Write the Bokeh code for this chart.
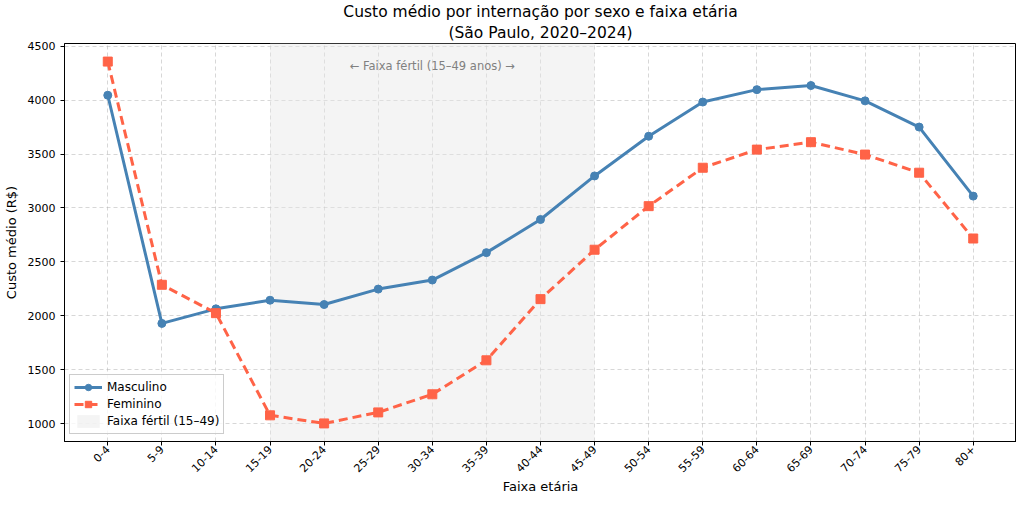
import math
from bokeh.plotting import figure
from bokeh.models import (FixedTicker, Range1d, Legend, LegendItem, Title, ColumnDataSource)
from bokeh.core.properties import value
from bokeh.embed import file_html
from bokeh.resources import INLINE

faixas = ["0-4", "5-9", "10-14", "15-19", "20-24", "25-29", "30-34", "35-39", "40-44",
          "45-49", "50-54", "55-59", "60-64", "65-69", "70-74", "75-79", "80+"]
masculino = [4045, 1930, 2065, 2145, 2105, 2248, 2332, 2586, 2893, 3297, 3665, 3982,
             4097, 4135, 3993, 3750, 3110]
feminino = [4357, 2288, 2025, 1078, 1003, 1105, 1273, 1588, 2155, 2613, 3017, 3373,
            3541, 3610, 3495, 3327, 2717]
y_ticks = [1000, 1500, 2000, 2500, 3000, 3500, 4000, 4500]
fertil_inicio = "15-19"
fertil_fim = "45-49"
titulo = "Custo médio por internação por sexo e faixa etária"
subtitulo = "(São Paulo, 2020–2024)"

FONT = "DejaVu Sans"
xs = list(range(len(faixas)))
x0 = faixas.index(fertil_inicio)
x1 = faixas.index(fertil_fim)

ymin = min(min(masculino), min(feminino))
ymax = max(max(masculino), max(feminino))
pad = 0.05 * (ymax - ymin)

p = figure(width=1016, height=496, output_backend="svg", toolbar_location=None,
           x_range=Range1d(-0.8, len(faixas) - 1 + 0.8),
           y_range=Range1d(ymin - pad, ymax + pad),
           min_border_left=57, min_border_right=0, min_border_top=0, min_border_bottom=0,
           title=None)

p.add_layout(Title(text=subtitulo, align="center", text_font=FONT, text_font_size="15.5px",
                   text_font_style="normal", text_color="black", standoff=3, offset=0), "above")
p.add_layout(Title(text=titulo, align="center", text_font=FONT, text_font_size="15.5px",
                   text_font_style="normal", text_color="black", standoff=0), "above")

p.background_fill_color = "white"
p.border_fill_color = "white"
p.outline_line_color = "black"
p.outline_line_width = 1

# shaded fertile band
band = p.quad(left=[x0], right=[x1], bottom=[-1e5], top=[1e5],
              fill_color="#e6e6e6", fill_alpha=0.45, line_color=None)

src = ColumnDataSource(dict(x=xs, m=masculino, f=feminino))
lm = p.line("x", "m", source=src, line_color="#4682B4", line_width=3)
sm = p.scatter("x", "m", source=src, marker="circle", size=8,
               fill_color="#4682B4", line_color="#4682B4")
lf = p.line("x", "f", source=src, line_color="#FF6347", line_width=3, line_dash="9 5")
sf = p.scatter("x", "f", source=src, marker="square", size=9,
               fill_color="#FF6347", line_color="#FF6347")

p.text(x=[(x0 + x1) / 2], y=[ymax - 40], text=["← Faixa fértil (15–49 anos) →"],
       text_font=value(FONT), text_font_size="11.5px", text_color="gray",
       text_align="center", text_baseline="middle")

# axes
p.xaxis.ticker = FixedTicker(ticks=xs)
p.xaxis.major_label_overrides = {i: f for i, f in enumerate(faixas)}
p.xaxis.major_label_orientation = math.pi / 4
p.yaxis.ticker = FixedTicker(ticks=y_ticks)
for ax in (p.xaxis[0], p.yaxis[0]):
    ax.major_label_text_font = FONT
    ax.major_label_text_font_size = "11px"
    ax.major_label_text_color = "black"
    ax.axis_label_text_font = FONT
    ax.axis_label_text_font_size = "13px"
    ax.axis_label_text_font_style = "normal"
    ax.axis_label_text_color = "black"
    ax.major_tick_in = 0
    ax.major_tick_out = 4
    ax.minor_tick_line_color = None
    ax.axis_line_color = "black"
    ax.major_tick_line_color = "black"
p.xaxis.axis_label = "Faixa etária"
p.yaxis.axis_label = "Custo médio (R$)"
p.xaxis.major_label_standoff = 2
p.xaxis.axis_label_standoff = 0
p.yaxis.axis_label_standoff = 6

p.xgrid.grid_line_color = "#b0b0b0"
p.ygrid.grid_line_color = "#b0b0b0"
p.xgrid.grid_line_alpha = 0.5
p.ygrid.grid_line_alpha = 0.5
p.xgrid.grid_line_dash = "4 3"
p.ygrid.grid_line_dash = "4 3"

legend = Legend(items=[
    LegendItem(label="Masculino", renderers=[lm, sm]),
    LegendItem(label="Feminino", renderers=[lf, sf]),
    LegendItem(label="Faixa fértil (15–49)", renderers=[band]),
], location=(5, 7))
legend.label_text_font = FONT
legend.label_text_font_size = "12px"
legend.label_text_color = "black"
legend.border_line_color = "#cccccc"
legend.border_line_alpha = 1
legend.background_fill_alpha = 0.8
legend.margin = 0
legend.padding = 4
legend.spacing = 1
legend.label_height = 16
legend.glyph_height = 16
legend.glyph_width = 28
p.add_layout(legend)

open("out.html", "w").write(file_html(p, INLINE))
